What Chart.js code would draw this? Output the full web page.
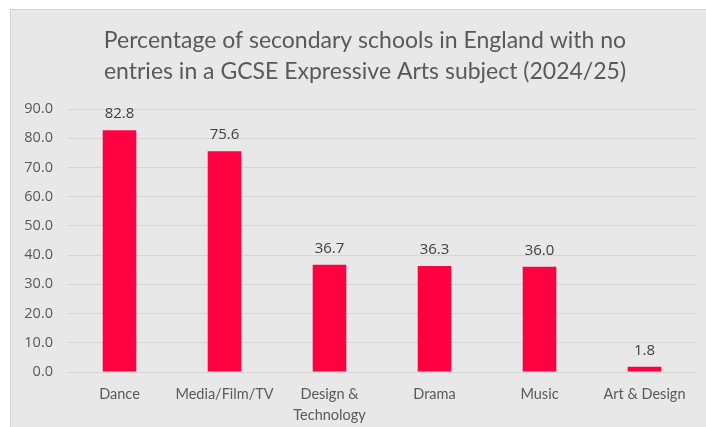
<!DOCTYPE html>
<html>
<head>
<meta charset="utf-8">
<script src="https://cdn.jsdelivr.net/npm/chart.js@4"></script>
<style>
    body { margin: 0; background: #ffffff; }
    #kader {
        position: absolute;
        left: 10px;
        top: 9px;
        width: 696px;
        height: 418px;
        background: #e8e8e8;
        border-left: 1px solid #d3d3d3;
        border-top: 1px solid #d3d3d3;
    }
</style>
</head>
<body>
<div id="kader"><canvas id="grafiekVakken" width="695" height="417"></canvas></div>
<script>
const vakken = ["Dance", "Media/Film/TV", ["Design &", "Technology"], "Drama", "Music", "Art & Design"];
const percentages = [82.8, 75.6, 36.7, 36.3, 36.0, 1.8];
const titelRegels = [
    "Percentage of secondary schools in England with no",
    "entries in a GCSE Expressive Arts subject (2024/25)"
];

// zet het percentage boven elke staaf
const waardeLabels = {
    id: "waardeLabels",
    afterDatasetsDraw(chart) {
        const ctx = chart.ctx;
        const meta = chart.getDatasetMeta(0);
        ctx.save();
        ctx.font = "15px 'Open Sans'";
        ctx.fillStyle = "#404040";
        ctx.textAlign = "center";
        ctx.textBaseline = "alphabetic";
        meta.data.forEach((staaf, i) => {
            ctx.fillText(percentages[i].toFixed(1), staaf.x, staaf.y - 12);
        });
        ctx.restore();
    }
};

// titel iets naar rechts, niet precies in het midden van het canvas
const titelVerschuiving = {
    id: "titelVerschuiving",
    afterLayout(chart) {
        if (chart.titleBlock) chart.titleBlock.left += 12;
    }
};

function tekenGrafiek() {
    const canvas = document.getElementById("grafiekVakken");
    Chart.defaults.animation = false;

    new Chart(canvas, {
        type: "bar",
        data: {
            labels: vakken,
            datasets: [{
                data: percentages,
                backgroundColor: "#ff0040",
                categoryPercentage: 1,
                barPercentage: 0.32,
            }],
        },
        options: {
            responsive: false,
            layout: {
                padding: { left: 10, right: 9, top: 0, bottom: 3 }
            },
            plugins: {
                legend: { display: false },
                tooltip: { enabled: false },
                title: {
                    display: true,
                    text: titelRegels,
                    color: "#595959",
                    font: { family: "Lato", size: 23, weight: "normal", lineHeight: 1.35 },
                    padding: { top: 15, bottom: 22 },
                },
            },
            scales: {
                y: {
                    min: 0,
                    max: 90,
                    afterFit: s => { s.width = 46; },
                    border: { display: false },
                    grid: { color: "#d6d6d6", drawTicks: false },
                    ticks: {
                        stepSize: 10,
                        padding: 14,
                        color: "#595959",
                        font: { family: "'Open Sans'", size: 14.5 },
                        callback: v => v.toFixed(1),
                    },
                },
                x: {
                    afterFit: s => { s.height = 52; },
                    border: { display: false },
                    grid: { display: false, drawTicks: false },
                    ticks: {
                        padding: 12,
                        maxRotation: 0,
                        color: "#595959",
                        font: { family: "Lato", size: 14.5, lineHeight: 1.45 },
                    },
                },
            },
        },
        plugins: [waardeLabels, titelVerschuiving],
    });
}

window.addEventListener("load", tekenGrafiek);
</script>
</body>
</html>
